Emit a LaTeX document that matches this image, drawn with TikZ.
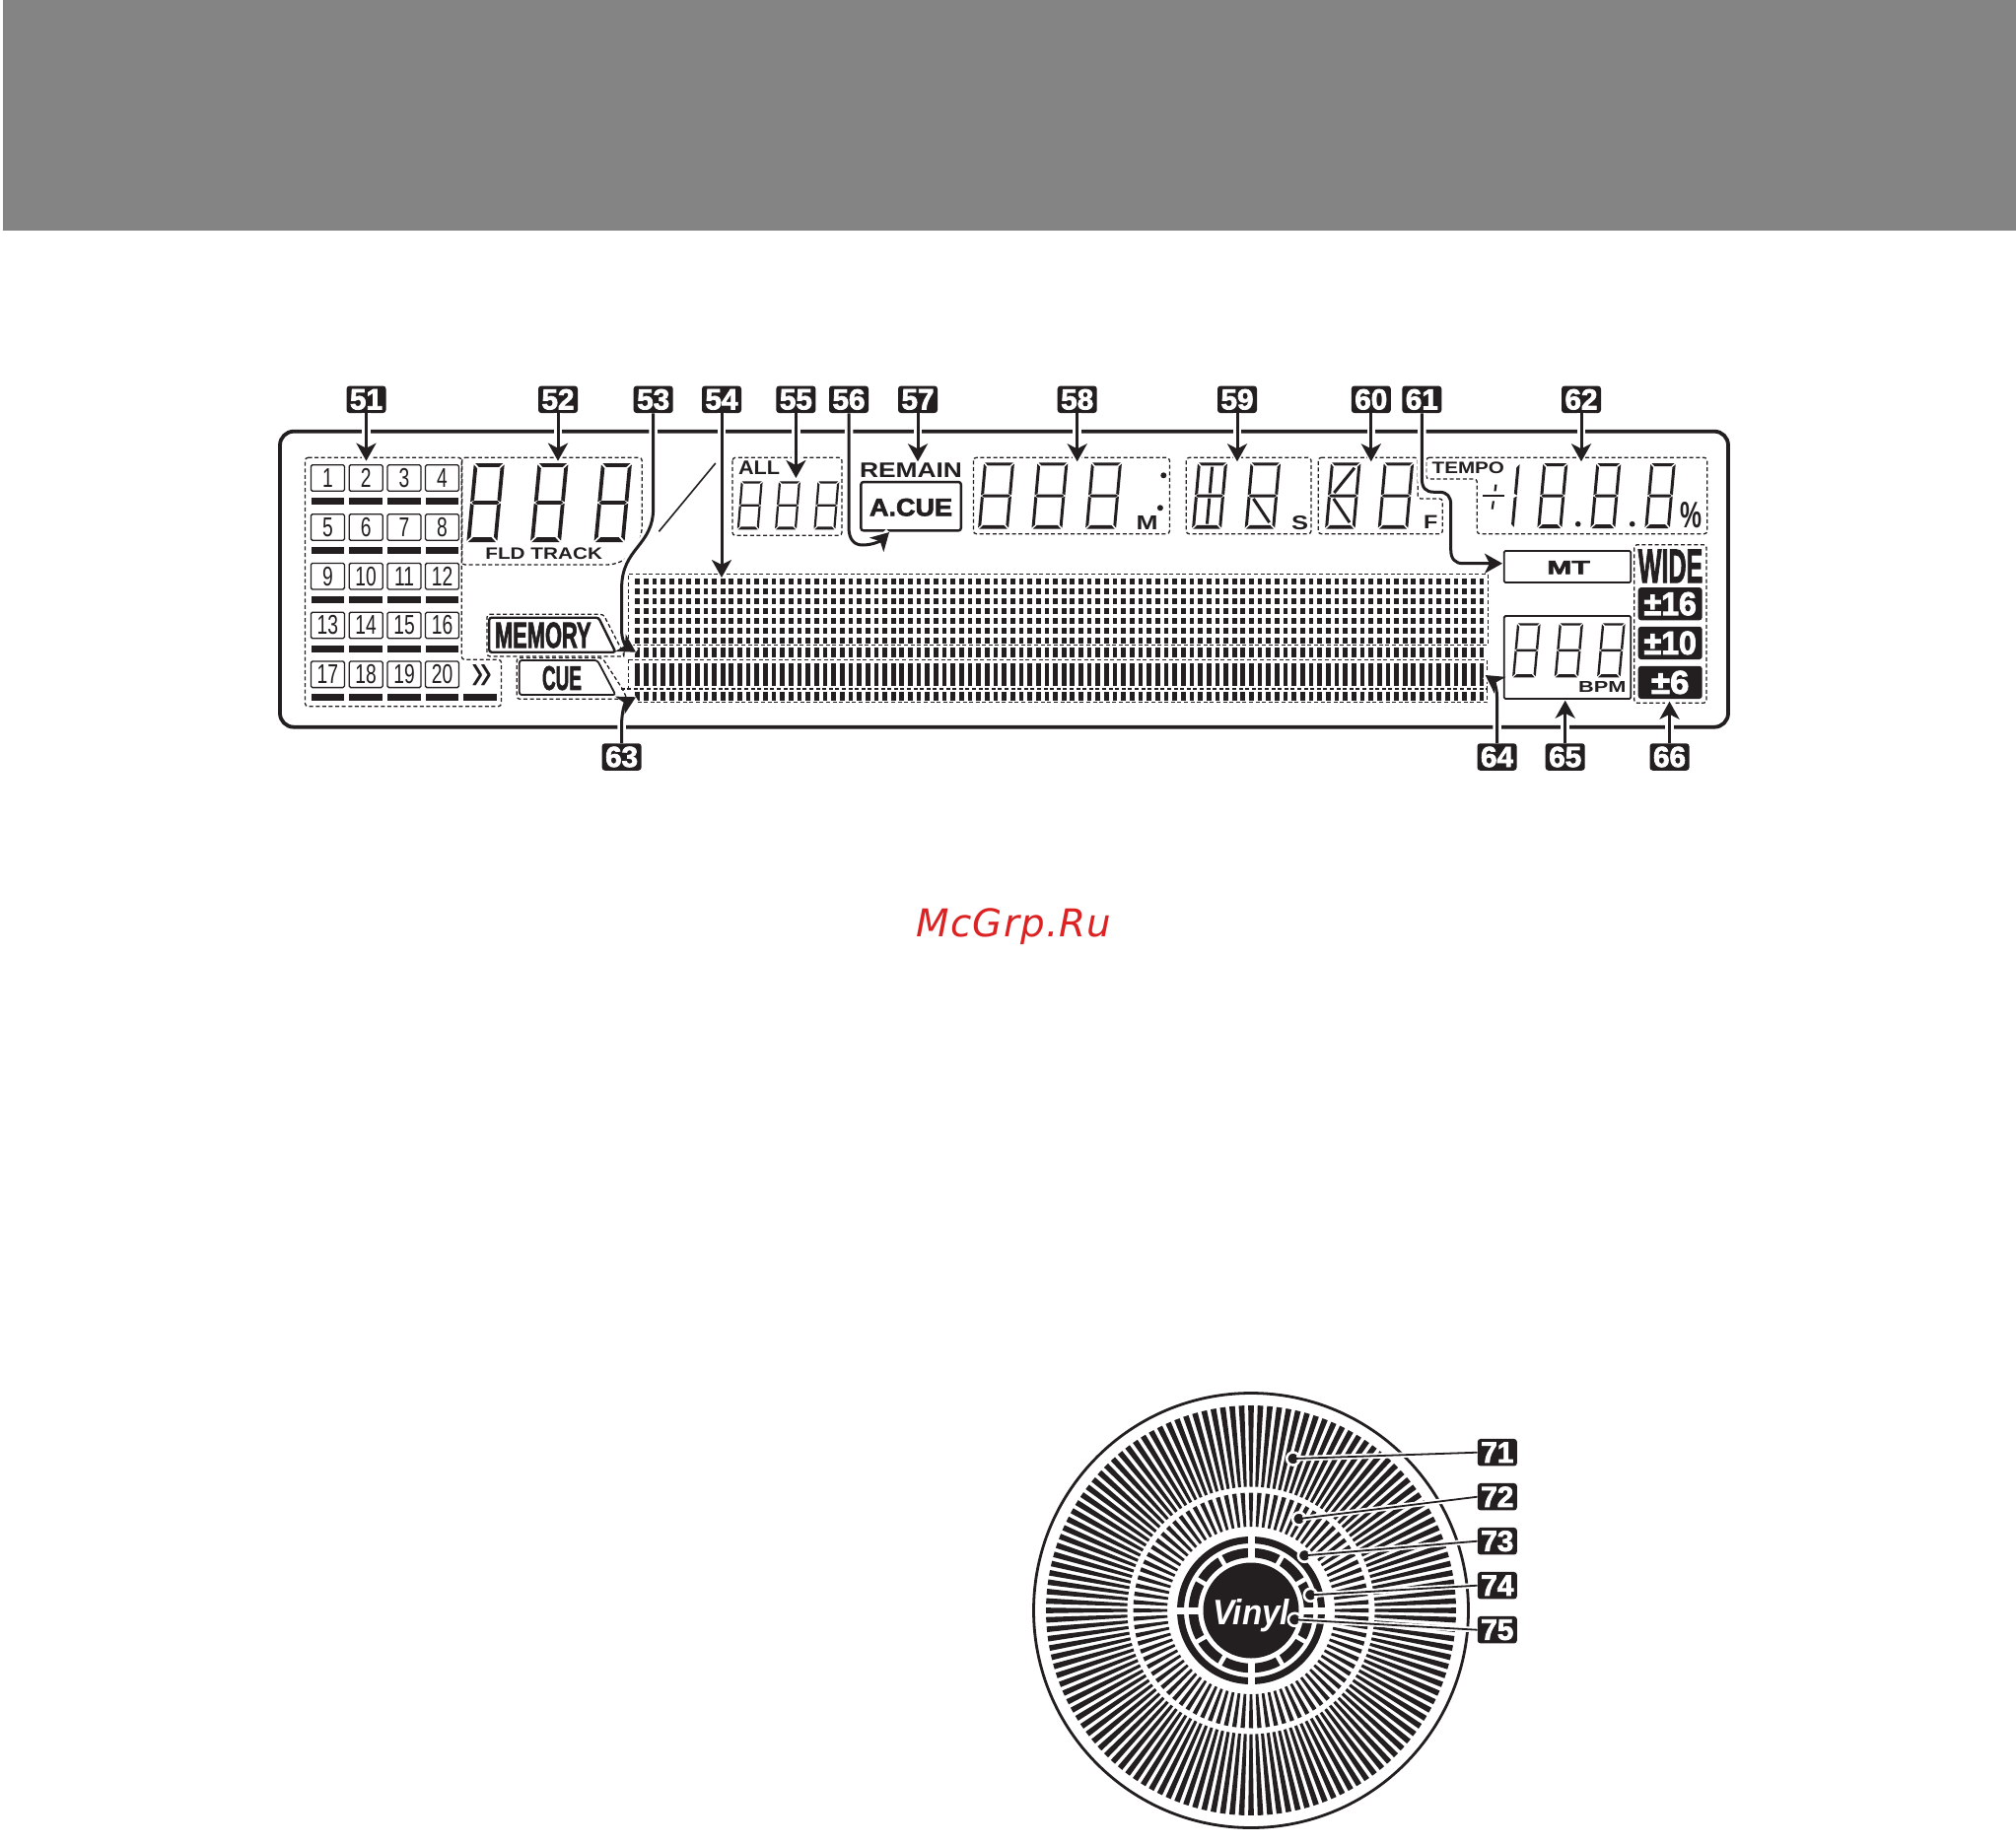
\documentclass[tikz,border=0pt]{standalone}
\usepackage{graphicx}
\usepackage{fontspec}
\setmainfont{Liberation Sans}
\newfontfamily\wmfont[LetterSpace=3]{DejaVu Sans}
\newfontfamily\hvy[BoldFeatures={FakeBold=2.5}]{Liberation Sans}
\usetikzlibrary{arrows.meta}
\definecolor{ink}{HTML}{231F20}
\definecolor{hdr}{HTML}{848484}
\definecolor{wmred}{HTML}{DC2222}
\tikzset{
  dashbox/.style={draw=ink,line width=1.3pt,dash pattern=on 4pt off 2.6pt,rounded corners=3pt},
  solidbox/.style={draw=ink,line width=2.4pt,rounded corners=2.5pt},
  badge/.style={fill=ink,rounded corners=3pt,minimum width=40pt,minimum height=27.5pt,inner sep=0pt,text=white},
  numbox/.style={draw=ink,line width=1.3pt,rounded corners=1.5pt,minimum width=34pt,minimum height=26.6pt,inner sep=0pt,text=ink},
  arr/.style={draw=ink,line width=3pt,-{Stealth[length=18pt,width=20pt,inset=5pt]},
     preaction={draw=white,line width=8.5pt,-}},
  leader/.style={draw=ink,line width=1.8pt,preaction={draw=white,line width=5.5pt}},
  pin/.style={circle,fill=ink,draw=white,line width=2.6pt,minimum size=13pt,inner sep=0pt},
  lcdtxt/.style={inner sep=0pt,text=ink},
}
\newcommand\lbl[6]{\node[lcdtxt] (#1) at (#2,#3) {\resizebox{#4pt}{#5pt}{#6}};}
\newcommand\bdg[3]{\node[badge] (b#1) at (#2,#3) {\resizebox{33pt}{20.5pt}{\hvy\bfseries #1}};}
% seven-segment digit: x, top y, total width, height, slant, thickness, segment list
\newcommand\sgdigit[7]{%
 \begin{scope}[shift={(#1,#2+#4)}]
 \pgfmathsetmacro\kk{#5/#4}
 \begin{scope}[xslant=\kk]
 \pgfmathsetmacro\WW{#3-#5}\pgfmathsetmacro\HH{#4}\pgfmathsetmacro\TT{#6}
 \pgfmathsetmacro\GG{0.3*#6+0.3}\pgfmathsetmacro\MM{#4/2}
 \foreach \q in {#7}{\csname sg\q\endcsname}
 \end{scope}
 \end{scope}}
\newcommand\sgA{\fill[ink] (\GG,-\HH)--({\WW-\GG},-\HH)--({\WW-\GG-\TT},{-\HH+\TT})--({\GG+\TT},{-\HH+\TT})--cycle;}
\newcommand\sgD{\fill[ink] (\GG,0)--({\WW-\GG},0)--({\WW-\GG-1.3*\TT},{-1.3*\TT})--({\GG+1.3*\TT},{-1.3*\TT})--cycle;}
\newcommand\sgB{\fill[ink] (\WW,{-\HH+\GG})--(\WW,{-\MM-\GG/2})--({\WW-\TT},{-\MM-\GG/2-\TT/2})--({\WW-\TT},{-\HH+\GG+\TT})--cycle;}
\newcommand\sgC{\fill[ink] (\WW,-\GG)--(\WW,{-\MM+\GG/2})--({\WW-\TT},{-\MM+\GG/2+\TT/2})--({\WW-\TT},{-\GG-\TT})--cycle;}
\newcommand\sgF{\fill[ink] (0,{-\HH+\GG})--(0,{-\MM-\GG/2})--(\TT,{-\MM-\GG/2-\TT/2})--(\TT,{-\HH+\GG+\TT})--cycle;}
\newcommand\sgE{\fill[ink] (0,-\GG)--(0,{-\MM+\GG/2})--(\TT,{-\MM+\GG/2+\TT/2})--(\TT,{-\GG-\TT})--cycle;}
\newcommand\sgG{\fill[ink] (\GG,-\MM)--({\GG+.6*\TT},{-\MM+\TT/2})--({\WW-\GG-.6*\TT},{-\MM+\TT/2})--({\WW-\GG},-\MM)--({\WW-\GG-.6*\TT},{-\MM-\TT/2})--({\GG+.6*\TT},{-\MM-\TT/2})--cycle;}
\newcommand\sgI{\fill[ink] ({\WW/2-\TT/2},{-\HH+\TT+\GG})rectangle({\WW/2+\TT/2},{-\MM-\GG-\TT/2});}
\newcommand\sgJ{\fill[ink] ({\WW/2-\TT/2},{-\MM+\GG+\TT/2})rectangle({\WW/2+\TT/2},{-1.3*\TT-\GG});}
\newcommand\sgK{\draw[ink,line width=\TT pt] ({\WW*.2},{-\MM-\TT})--({\WW*.8},{-\HH+1.8*\TT});}
\newcommand\sgL{\draw[ink,line width=\TT pt] ({\WW*.2},{-\MM+\TT})--({\WW*.8},{-2.2*\TT});}
\begin{document}
\begin{tikzpicture}[x=1pt,y=-1pt]
\useasboundingbox (0,0) rectangle (2045,1871);
\fill[white] (0,0) rectangle (2045,1871);
\fill[hdr] (3,0) rectangle (2045,234);
% LCD frame
\draw[ink,line width=3.8pt,rounded corners=14pt] (284,437.7) rectangle (1753,737.7);
% Dashed outlines
\draw[dashbox] (309.5,464.3)--(468.3,464.3)--(468.3,669.3)--(508.5,669.3)--(508.5,716.7)--(309.5,716.7)--cycle;
\draw[dashbox] (468.7,464.3)--(651.2,464.3)--(651.2,530) .. controls (651.2,556) and (635,573) .. (612,573)--(468.7,573)--cycle;
\draw[dashbox] (743,464.3) rectangle (854,543.3);
\draw[dashbox] (987.4,464.3) rectangle (1186.4,541.7);
\draw[dashbox] (1203.3,464.3) rectangle (1330,541.7);
\draw[dashbox] (1337.2,464.3)--(1438.3,464.3)--(1438.3,506)--(1463.3,506)--(1463.3,541.7)--(1337.2,541.7)--cycle;
\draw[dashbox] (1446.7,464.3)--(1731.7,464.3)--(1731.7,541.7)--(1498.3,541.7)--(1498.3,486)--(1446.7,486)--cycle;
\draw[dashbox] (1657.7,552.7) rectangle (1731,713.3);
% Number cells and bars
\foreach \n/\x/\y in {1/332.4/485,2/371.2/485,3/410/485,4/448.5/485,
  5/332.4/535,6/371.2/535,7/410/535,8/448.5/535,
  9/332.4/584.7,10/371.2/584.7,11/410/584.7,12/448.5/584.7,
  13/332.4/634.5,14/371.2/634.5,15/410/634.5,16/448.5/634.5,
  17/332.4/684.3,18/371.2/684.3,19/410/684.3,20/448.5/684.3}{
  \node[numbox] (n\n) at (\x,\y) {\fontsize{27.5}{28}\selectfont\scalebox{.7}[1]{\n}};
}
\foreach \y in {505.3,555,605,655,704.3}{
  \foreach \a/\b in {316/349.3,353.9/388,393.3/427,432/464.9}{
    \fill[ink] (\a,\y) rectangle (\b,\y+6.7);
  }
}
\fill[ink] (470.2,704.3) rectangle (503.9,711);
\lbl{chev}{489.4}{686.7}{21}{25}{»}
% Digits
\sgdigit{473.3}{470}{38.5}{80}{7.5}{3.8}{A,B,C,D,E,F,G}
\sgdigit{538}{470}{38.5}{80}{7.5}{3.8}{A,B,C,D,E,F,G}
\sgdigit{602.5}{470}{38.5}{80}{7.5}{3.8}{A,B,C,D,E,F,G}
\lbl{fld}{551.7}{561.5}{118.6}{11.7}{\bfseries FLD TRACK}
\lbl{all}{770}{474.8}{42}{13.7}{\bfseries ALL}
\sgdigit{747.7}{488.3}{26}{49}{4}{2.2}{A,B,C,D,E,F,G}
\sgdigit{786}{488.3}{26}{49}{4}{2.2}{A,B,C,D,E,F,G}
\sgdigit{825.4}{488.3}{26}{49}{4}{2.2}{A,B,C,D,E,F,G}
\lbl{remain}{924}{476.7}{104}{14.7}{\bfseries REMAIN}
\node[solidbox,minimum width=101.4pt,minimum height=49.3pt,inner sep=0pt] (acuebox) at (924.1,513.7) {};
\lbl{acue}{924}{514.7}{84}{17.5}{\hvy\bfseries A.CUE}
\sgdigit{992}{469.3}{37}{67.4}{6}{3}{A,B,C,D,E,F,G}
\sgdigit{1046.4}{469.3}{37}{67.4}{6}{3}{A,B,C,D,E,F,G}
\sgdigit{1101}{469.3}{37}{67.4}{6}{3}{A,B,C,D,E,F,G}
\fill[ink] (1180.3,482.3) circle[radius=3pt] (1176.9,515.3) circle[radius=3pt];
\lbl{mm}{1163.7}{530.3}{22}{14}{\bfseries M}
\sgdigit{1209}{469.3}{36}{67.4}{6}{3}{A,B,C,D,E,F,G,I,J}
\sgdigit{1262.6}{469.3}{36.5}{67.4}{6}{3}{A,B,C,D,E,F,G,L}
\lbl{ss}{1318.5}{530.3}{17}{14}{\bfseries S}
\sgdigit{1344}{469.3}{36.5}{67.4}{6}{3}{A,B,C,D,E,F,G,K,L}
\sgdigit{1397.7}{469.3}{36.5}{67.4}{6}{3}{A,B,C,D,E,F,G}
\lbl{ff}{1451.2}{530}{14.3}{13.4}{\bfseries F}
\lbl{tempo}{1489.3}{475.2}{73.3}{11.7}{\bfseries TEMPO}
\fill[ink] (1504,502) rectangle (1526,504.4);
\fill[ink] (1516.2,491.7)--(1518.6,491.7)--(1517.6,498.3)--(1515.4,498.3)--cycle
           (1513.8,508.3)--(1516,508.3)--(1514.8,516.7)--(1512.6,516.7)--cycle;
\sgdigit{1510.7}{470}{31}{66}{6}{3}{B,C}
\sgdigit{1559.3}{470}{31}{66}{6}{3}{A,B,C,D,E,F,G}
\sgdigit{1613.3}{470}{31}{66}{6}{3}{A,B,C,D,E,F,G}
\sgdigit{1668.3}{470}{31.5}{66}{6}{3}{A,B,C,D,E,F,G}
\fill[ink] (1600.7,531.7) circle[radius=2.8pt] (1655.7,531.7) circle[radius=2.8pt];
\lbl{pct}{1715}{523}{22}{26}{\bfseries\%}
% MT, BPM
\node[draw=ink,line width=1.8pt,rounded corners=1.5pt,minimum width=128.6pt,minimum height=32pt,inner sep=0pt] (mtbox) at (1590,575) {};
\lbl{mt}{1591}{575.7}{43.4}{13.3}{\hvy\bfseries MT}
\node[draw=ink,line width=1.8pt,rounded corners=1.5pt,minimum width=128.6pt,minimum height=84pt,inner sep=0pt] (bpmbox) at (1590,667) {};
\sgdigit{1534}{632.3}{28.7}{55}{5}{2.4}{A,B,C,D,E,F,G}
\sgdigit{1576.7}{632.3}{29.3}{55}{5}{2.4}{A,B,C,D,E,F,G}
\sgdigit{1620}{632.3}{28.7}{55}{5}{2.4}{A,B,C,D,E,F,G}
\lbl{bpm}{1625.2}{697.2}{48.3}{11}{\bfseries BPM}
% WIDE column
\lbl{wide}{1694.5}{574.4}{65.6}{33.3}{\hvy\bfseries WIDE}
\node[fill=ink,rounded corners=3pt,minimum width=65pt,minimum height=33.3pt,inner sep=0pt] (r16) at (1694.2,612.7) {\resizebox{53.3pt}{23.3pt}{\hvy\bfseries\color{white}±16}};
\node[fill=ink,rounded corners=3pt,minimum width=65pt,minimum height=33.3pt,inner sep=0pt] (r10) at (1694.2,652.4) {\resizebox{53.3pt}{23.3pt}{\hvy\bfseries\color{white}±10}};
\node[fill=ink,rounded corners=3pt,minimum width=65pt,minimum height=33.3pt,inner sep=0pt] (r6) at (1694.2,692.4) {\resizebox{38.3pt}{23.3pt}{\hvy\bfseries\color{white}±6}};
% Diagonal stroke
\draw[ink,line width=1.6pt] (725.8,470)--(668.4,539.3);
% Dot matrix
\foreach \i in {0,...,99}{
  \pgfmathsetmacro\x{644.3+8.65*\i}
  \foreach \y in {586.7,596.7,606.7,616.7,626.7,636.7,646.7}{
    \fill[ink] (\x,\y) rectangle (\x+4.7,\y+6.7);
  }
  \fill[ink] (\x,656.7) rectangle (\x+4.7,667);
  \fill[ink] (\x,672.7) rectangle (\x+4.7,696);
  \fill[ink] (\x,702.3) rectangle (\x+4.7,711.3);
}
\draw[dashbox,rounded corners=0pt] (637.8,654.3)--(637.8,582.3)--(1509.3,582.3)--(1509.3,654.3)--(637.8,654.3);
\draw[dashbox,rounded corners=0pt] (637.8,669.3)--(1508.5,669.3)--(1508.5,699)--(630,699);
\draw[dashbox,rounded corners=0pt] (637.8,669.3)--(637.8,699);
\draw[dashbox,rounded corners=0pt] (640,712.7)--(1508.5,712.7)--(1508.5,699);
% MEMORY / CUE
\draw[dashbox,fill=white] (494,623.3)--(612,623.3)--(633,664)--(633,666)--(494,666)--cycle;
\draw[solidbox,fill=white] (496.2,626.7)--(607.2,626.7)--(624.4,661.7)--(496.2,661.7)--cycle;
\lbl{memory}{550.8}{644.5}{97.6}{25.6}{\hvy\bfseries MEMORY}
\draw[dashbox] (524.2,667.5)--(611,667.5)--(632,700)--(636,709.3)--(524.2,709.3)--cycle;
\draw[solidbox,line width=1.8pt,fill=white] (526.8,670)--(606,670)--(624.4,705)--(526.8,705)--cycle;
\lbl{cue}{570}{688}{40}{24}{\hvy\bfseries CUE}
% Watermark
\node[inner sep=0pt,text=wmred,anchor=base] (wm) at (1028.5,950) {\wmfont\itshape\fontsize{38.8}{40}\selectfont McGrp.Ru};
% Badges, top
\foreach \n/\x in {51/371.5,52/566,53/662.7,54/732,55/807.4,56/861,57/931,58/1092.7,59/1255,60/1390.8,61/1442.3,62/1604}{
  \bdg{\n}{\x}{405.3}
}
\foreach \n/\x in {63/630.6,64/1518.5,65/1587.7,66/1693.5}{
  \bdg{\n}{\x}{768}
}
% Straight arrows
\foreach \n/\x/\y in {51/371.5/467.7,52/566/467.7,54/732/586,55/807.4/485,57/931/468.3,58/1092.7/468.3,59/1255/468.3,60/1390.8/468.3,62/1604/468.3}{
  \coordinate (t\n) at (\x,\y);
  \draw[arr] (b\n.south)--(t\n);
}
\foreach \n/\x/\y in {65/1587.7/710.7,66/1693.5/711.7}{
  \coordinate (t\n) at (\x,\y);
  \draw[arr] (b\n.north)--(t\n);
}
% Curved arrows
\coordinate (t53) at (645,661.7);
\draw[arr] (b53.south)--(662.7,515) .. controls (662.7,555) and (630.6,555) .. (630.6,597)--(630.6,640) .. controls (630.6,648) and (634,655) .. (t53);
\coordinate (t56) at (902,540);
\draw[arr] (b56.south)--(861,535) .. controls (861,548) and (867,553) .. (875,553) .. controls (885,553) and (893,549) .. (t56);
\coordinate (t61) at (mtbox.west);
\draw[arr] (b61.south)--(1442.3,485) .. controls (1442.3,495) and (1446,499.3) .. (1455,499.3)--(1460,499.3) .. controls (1468,499.3) and (1471.7,504) .. (1471.7,512)--(1471.7,558) .. controls (1471.7,567) and (1476,571.7) .. (1484,571.7)--(1524,571.7);
\coordinate (t63) at (645,707.3);
\draw[arr] (b63.north)--(630.6,735) .. controls (630.6,722) and (634,713) .. (t63);
\coordinate (t64) at (1506.7,685);
\draw[arr] (b64.north)--(1518.5,707) .. controls (1518.5,696) and (1514,690) .. (t64);
% Jog wheel
\begin{scope}[shift={(1269,1634)}]
  \draw[ink,line width=2.8pt] (0,0) circle[radius=220.5pt];
  \foreach \i in {0,...,135}{
    \pgfmathsetmacro\a{2.64706*\i}
    \fill[ink] (\a-.785:208)--(\a+.785:208)--(\a+.685:125.5)--(\a-.685:125.5)--cycle;
  }
  \foreach \i in {0,...,87}{
    \pgfmathsetmacro\a{4.09091*\i}
    \fill[ink] (\a-1.05:119.5)--(\a+1.05:119.5)--(\a+.91:85)--(\a-.91:85)--cycle;
  }
  \draw[ink,line width=7pt] (0,0) circle[radius=71.5pt];
  \draw[ink,line width=9.5pt] (0,0) circle[radius=58.5pt];
  \foreach \a in {30,60,120,150,210,240,300,330}{
    \draw[white,line width=4.5pt] (\a:50)--(\a:65.5);
  }
  \foreach \a in {0,90,180,270}{
    \draw[white,line width=7pt] (\a:50)--(\a:80);
  }
  \fill[ink] (0,0) circle[radius=48.5pt];
  \node[inner sep=0pt,text=white] (vinyl) at (0,5) {\resizebox{78pt}{26pt}{\hvy\bfseries\itshape Vinyl}};
\end{scope}
% Wheel call-outs
\foreach \n/\y in {71/1473.7,72/1518.7,73/1563.7,74/1608.7,75/1653.7}{
  \bdg{\n}{1518.8}{\y}
}
\foreach \n/\x/\y in {71/1311.7/1480,72/1317.7/1541,73/1323.3/1578.3,74/1329.3/1618.3,75/1313.3/1643.3}{
  \node[pin] (d\n) at (\x,\y) {};
  \draw[leader] (d\n.center)--(b\n.west);
  \fill[ink] (d\n.center) circle[radius=4.2pt];
}
\end{tikzpicture}
\end{document}
